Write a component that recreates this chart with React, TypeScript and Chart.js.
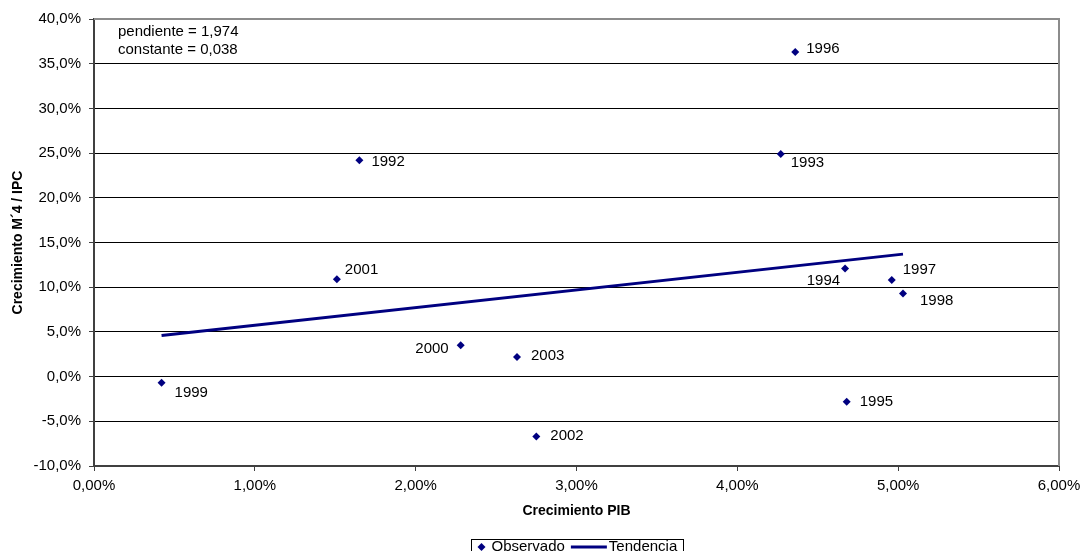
import { useEffect, useRef } from 'react';
import { Chart, registerables } from 'chart.js';

Chart.register(...registerables);

// ---- data ----
const years = ['1992', '1993', '1994', '1995', '1996', '1997', '1998', '1999', '2000', '2001', '2002', '2003'];
const pibGrowth = [1.65, 4.27, 4.67, 4.68, 4.36, 4.96, 5.03, 0.42, 2.28, 1.51, 2.75, 2.63];
const m4Growth = [24.2, 24.9, 12.1, -2.8, 36.3, 10.8, 9.3, -0.7, 3.5, 10.9, -6.7, 2.2];
const trendX = [0.42, 5.03];
const trendY = [4.6, 13.7];
const xTickRange = [0, 6, 1];
const yTickRange = [-10, 40, 5];
const annotationLines = ['pendiente = 1,974', 'constante = 0,038'];
const seriesNames = ['Observado', 'Tendencia'];
const xTitle = 'Crecimiento PIB';
const yTitle = 'Crecimiento M\u00b44 / IPC';

// ---- label placement (style only): dx, dy, align ----
const labelPlacement: [number, number, CanvasTextAlign][] = [
  [12, 2, 'left'],
  [10, 9, 'left'],
  [-5, 12, 'right'],
  [13, 0, 'left'],
  [11, -3, 'left'],
  [11, -10, 'left'],
  [17, 7, 'left'],
  [13, 10, 'left'],
  [-12, 4, 'right'],
  [8, -9, 'left'],
  [14, -1, 'left'],
  [14, -1, 'left'],
];

const FONT = '"Liberation Sans", Arial, sans-serif';
const NAVY = '#000080';

const fmtX = (v: number) => v.toFixed(2).replace('.', ',') + '%';
const fmtY = (v: number) => v.toFixed(1).replace('.', ',') + '%';

const decorPlugin = {
  id: 'decor',
  beforeDatasetsDraw(chart: any) {
    const { ctx, chartArea: a } = chart;
    ctx.save();
    ctx.strokeStyle = '#8c8c8c';
    ctx.lineWidth = 2;
    ctx.beginPath();
    ctx.moveTo(a.left, a.top);
    ctx.lineTo(a.right, a.top);
    ctx.lineTo(a.right, a.bottom);
    ctx.stroke();
    ctx.restore();
  },
  afterDatasetsDraw(chart: any) {
    const { ctx, chartArea: a } = chart;
    ctx.save();
    ctx.font = `15px ${FONT}`;
    ctx.fillStyle = '#000';
    ctx.textBaseline = 'middle';
    const meta = chart.getDatasetMeta(0);
    meta.data.forEach((pt: any, i: number) => {
      const [dx, dy, align] = labelPlacement[i];
      ctx.textAlign = align;
      ctx.fillText(years[i], pt.x + dx, pt.y + dy);
    });
    ctx.textAlign = 'left';
    annotationLines.forEach((t, i) => {
      ctx.fillText(t, a.left + 24, a.top + 13 + i * 18);
    });
    ctx.restore();
  },
  afterDraw(chart: any) {
    const { ctx, chartArea: a } = chart;
    ctx.save();
    ctx.font = `15px ${FONT}`;
    const w1 = ctx.measureText(seriesNames[0]).width;
    const w2 = ctx.measureText(seriesNames[1]).width;
    const total = 20 + w1 + 6 + 36 + 2 + w2 + 6;
    const left = Math.round((a.left + a.right) / 2 - total / 2) + 0.5;
    const top = 539.5;
    const cy = 547;
    ctx.strokeStyle = '#000';
    ctx.lineWidth = 1;
    ctx.strokeRect(left, top, Math.round(total), 30);
    // diamond
    const dxc = left + 10;
    ctx.fillStyle = NAVY;
    ctx.beginPath();
    ctx.moveTo(dxc, cy - 4);
    ctx.lineTo(dxc + 4, cy);
    ctx.lineTo(dxc, cy + 4);
    ctx.lineTo(dxc - 4, cy);
    ctx.closePath();
    ctx.fill();
    ctx.fillStyle = '#000';
    ctx.textBaseline = 'middle';
    ctx.textAlign = 'left';
    ctx.fillText(seriesNames[0], left + 20, cy);
    const lx = left + 20 + w1 + 6;
    ctx.strokeStyle = NAVY;
    ctx.lineWidth = 3;
    ctx.beginPath();
    ctx.moveTo(lx, cy);
    ctx.lineTo(lx + 36, cy);
    ctx.stroke();
    ctx.fillText(seriesNames[1], lx + 38, cy);
    ctx.restore();
  },
};

export default function App() {
  const ref = useRef<HTMLCanvasElement | null>(null);

  useEffect(() => {
    if (!ref.current) return;
    const chart = new Chart(ref.current, {
      type: 'scatter',
      data: {
        datasets: [
          {
            label: seriesNames[0],
            data: pibGrowth.map((x, i) => ({ x, y: m4Growth[i] })),
            pointStyle: 'rectRot',
            pointRadius: 4,
            pointBackgroundColor: NAVY,
            pointBorderColor: NAVY,
            pointBorderWidth: 0,
            showLine: false,
          },
          {
            label: seriesNames[1],
            data: trendX.map((x, i) => ({ x, y: trendY[i] })),
            showLine: true,
            borderColor: NAVY,
            borderWidth: 3,
            pointRadius: 0,
            fill: false,
          },
        ],
      },
      options: {
        responsive: false,
        maintainAspectRatio: false,
        animation: false,
        devicePixelRatio: 1,
        layout: { padding: { top: 19, right: 21, bottom: 0, left: 0 } },
        plugins: {
          legend: { display: false },
          tooltip: { enabled: false },
        },
        scales: {
          x: {
            type: 'linear',
            min: xTickRange[0],
            max: xTickRange[1],
            ticks: {
              stepSize: xTickRange[2],
              callback: (v: any) => fmtX(Number(v)),
              font: { family: FONT, size: 15 },
              color: '#000',
              padding: 6,
              maxRotation: 0,
              autoSkip: false,
            },
            grid: {
              drawOnChartArea: false,
              drawTicks: true,
              tickLength: 5,
              tickColor: '#404040',
              tickWidth: 1,
            },
            border: { display: true, color: '#404040', width: 2 },
            title: {
              display: true,
              text: xTitle,
              font: { family: FONT, size: 14, weight: 'bold' },
              color: '#000',
              padding: { top: 0, bottom: 31 },
            },
            afterFit: (s: any) => {
              s.height = 85;
              s.paddingLeft = 0;
              s.paddingRight = 0;
            },
          },
          y: {
            type: 'linear',
            min: yTickRange[0],
            max: yTickRange[1],
            ticks: {
              stepSize: yTickRange[2],
              callback: (v: any) => fmtY(Number(v)),
              font: { family: FONT, size: 15 },
              color: '#000',
              padding: 8,
            },
            grid: {
              color: (c: any) => (c.tick && c.tick.value === yTickRange[1] ? 'rgba(0,0,0,0)' : '#000'),
              lineWidth: 1,
              drawTicks: true,
              tickLength: 5,
              tickColor: '#404040',
              tickWidth: 1,
            },
            border: { display: true, color: '#404040', width: 2 },
            title: {
              display: true,
              text: yTitle,
              font: { family: FONT, size: 14, weight: 'bold' },
              color: '#000',
              padding: { top: 9.6, bottom: 0 },
            },
            afterFit: (s: any) => {
              s.width = 94;
              s.paddingTop = 0;
              s.paddingBottom = 0;
            },
          },
        },
      },
      plugins: [decorPlugin],
    } as any);
    return () => chart.destroy();
  }, []);

  return (
    <div style={{ position: 'absolute', left: 0, top: 0, width: 1080, height: 551, background: '#fff' }}>
      <canvas ref={ref} width={1080} height={551} />
    </div>
  );
}
